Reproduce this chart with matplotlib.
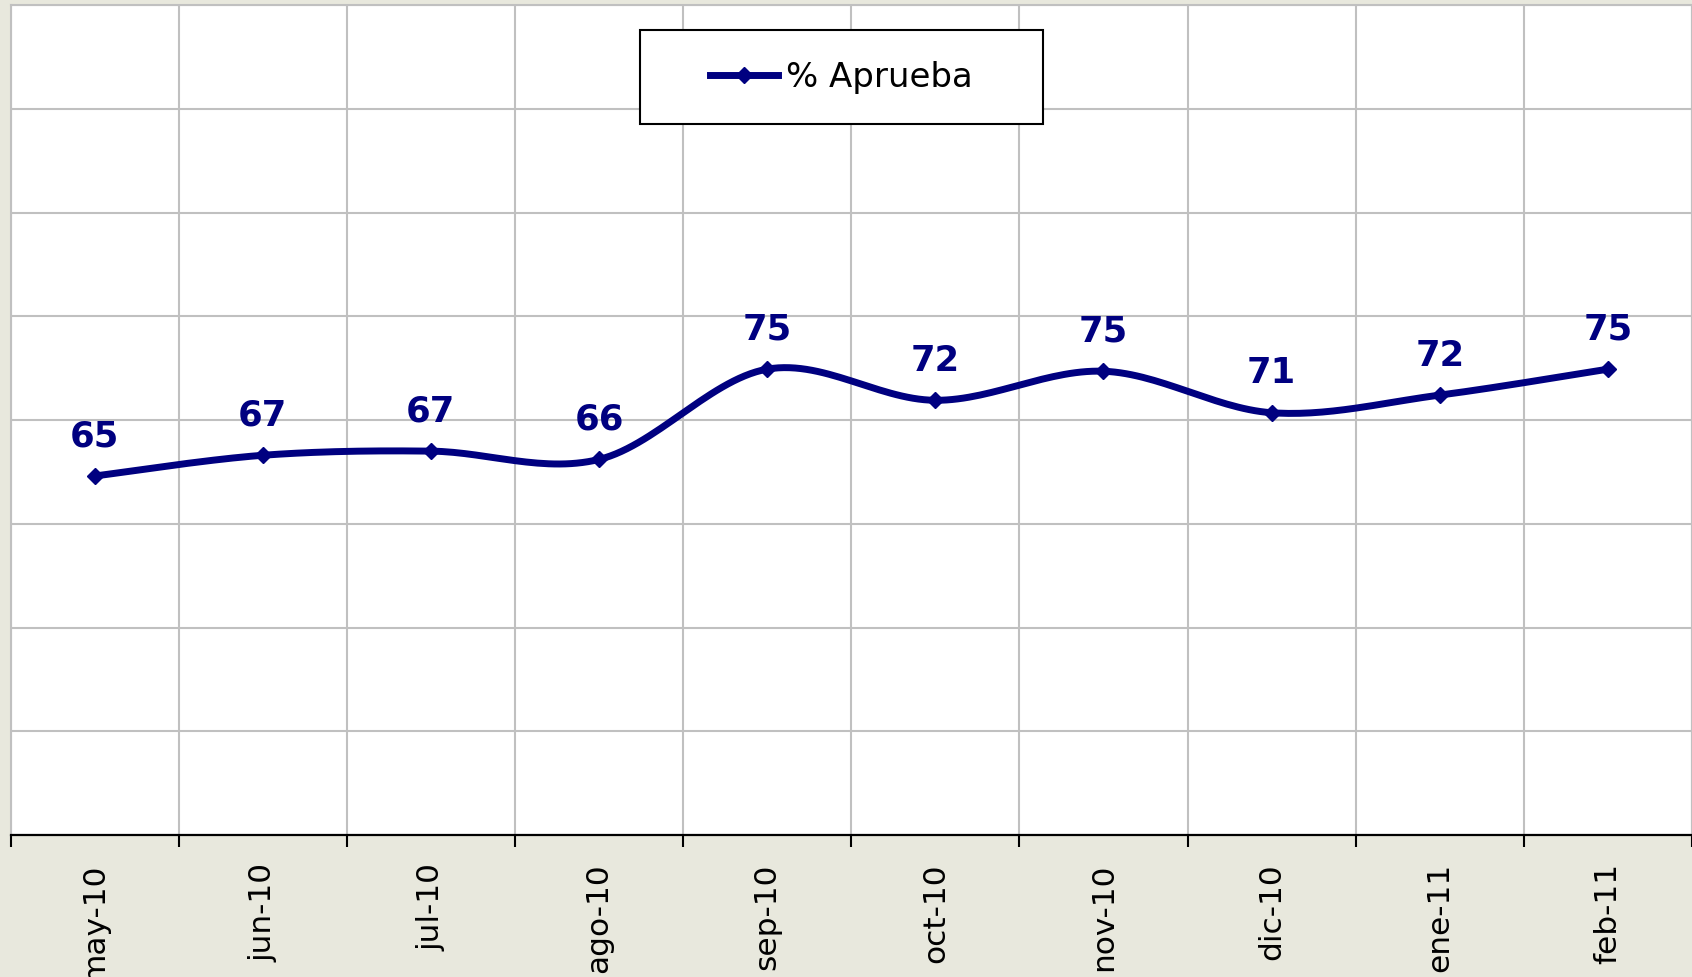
import numpy as np
import matplotlib
matplotlib.use("Agg")
import matplotlib.pyplot as plt
from matplotlib.patches import Rectangle
from matplotlib.lines import Line2D

plt.rcParams['font.family'] = ['DejaVu Sans']

# ---- data ----
months = ["may-10", "jun-10", "jul-10", "ago-10", "sep-10",
          "oct-10", "nov-10", "dic-10", "ene-11", "feb-11"]
aprueba = [64.6, 66.6, 67.0, 66.2, 74.9, 71.9, 74.7, 70.7, 72.4, 74.9]
series_name = "% Aprueba"

NAVY = "#000080"
BG = "#E8E8DD"
GRID = "#C0C0C0"

def smooth(xs, ys, n=30):
    """Catmull-Rom style Bezier smoothing (as in spreadsheet 'smoothed line')."""
    P = np.column_stack([xs, ys]).astype(float)
    m = len(P)
    out = []
    for i in range(m - 1):
        p0 = P[i - 1] if i > 0 else P[i]
        p1 = P[i]
        p2 = P[i + 1]
        p3 = P[i + 2] if i + 2 < m else P[i + 1]
        c1 = p1 + (p2 - p0) / 6.0
        c2 = p2 - (p3 - p1) / 6.0
        t = np.linspace(0, 1, n, endpoint=(i == m - 2))[:, None]
        seg = ((1 - t) ** 3) * p1 + 3 * ((1 - t) ** 2) * t * c1 + 3 * (1 - t) * t ** 2 * c2 + t ** 3 * p2
        out.append(seg)
    out = np.vstack(out)
    return out[:, 0], out[:, 1]

fig = plt.figure(figsize=(16.92, 9.78), dpi=100)
fig.patch.set_facecolor(BG)
ax = fig.add_axes([10.5 / 1692, 1 - 836 / 978, 1 - 10.5 / 1692, (836 - 6) / 978])
ax.set_facecolor("white")

x = np.arange(len(months))
sx, sy = smooth(x, aprueba)
ax.plot(sx, sy, color=NAVY, lw=5, solid_capstyle="round", solid_joinstyle="round", zorder=3)
ax.plot(x, aprueba, linestyle="none", marker="D", ms=8, color=NAVY, zorder=4)

for xi, v in zip(x, aprueba):
    ax.annotate(f"{v:.0f}", (xi, v), xytext=(0, 22), textcoords="offset points",
                ha="center", va="baseline", fontsize=25.5, fontweight="bold", color=NAVY)

ax.set_xlim(-0.5, len(months) - 0.5)
ax.set_ylim(30, 110)
ax.set_yticks(np.arange(30, 111, 10))
ax.set_xticks(np.arange(-0.5, len(months), 1.0))
ax.set_xticks(x, minor=True)
ax.set_xticklabels([])
ax.set_xticklabels(months, minor=True, rotation=90, fontsize=22.5, va="top", ha="center")
ax.tick_params(axis="x", which="major", direction="out", length=8.6, width=1.5, color="black")
ax.tick_params(axis="x", which="minor", length=0, pad=19.5)
ax.tick_params(axis="y", which="both", length=0, labelleft=False)
ax.grid(True, which="major", color=GRID, lw=1.5, zorder=0)
ax.set_axisbelow(True)

for side in ("left", "top", "right"):
    ax.spines[side].set_color(GRID)
    ax.spines[side].set_linewidth(1.5)
ax.spines["bottom"].set_color("black")
ax.spines["bottom"].set_linewidth(1.6)

# legend box
x0, x1, y0, y1 = 640 / 1692, 1043 / 1692, 1 - 125 / 978, 1 - 31 / 978
fig.patches.append(Rectangle((x0, y0), x1 - x0, y1 - y0, transform=fig.transFigure,
                             facecolor="white", edgecolor="black", lw=1.5, zorder=5))
handle = Line2D([], [], color=NAVY, lw=5, marker="D", ms=8)
leg = fig.legend([handle], [series_name], loc="center",
                 bbox_to_anchor=((x0 + x1) / 2, (y0 + y1) / 2),
                 frameon=False, fontsize=24.5, handlelength=2.0, handletextpad=0.25)
leg.set_zorder(6)

fig.savefig("out.png", dpi=100, facecolor=BG)
